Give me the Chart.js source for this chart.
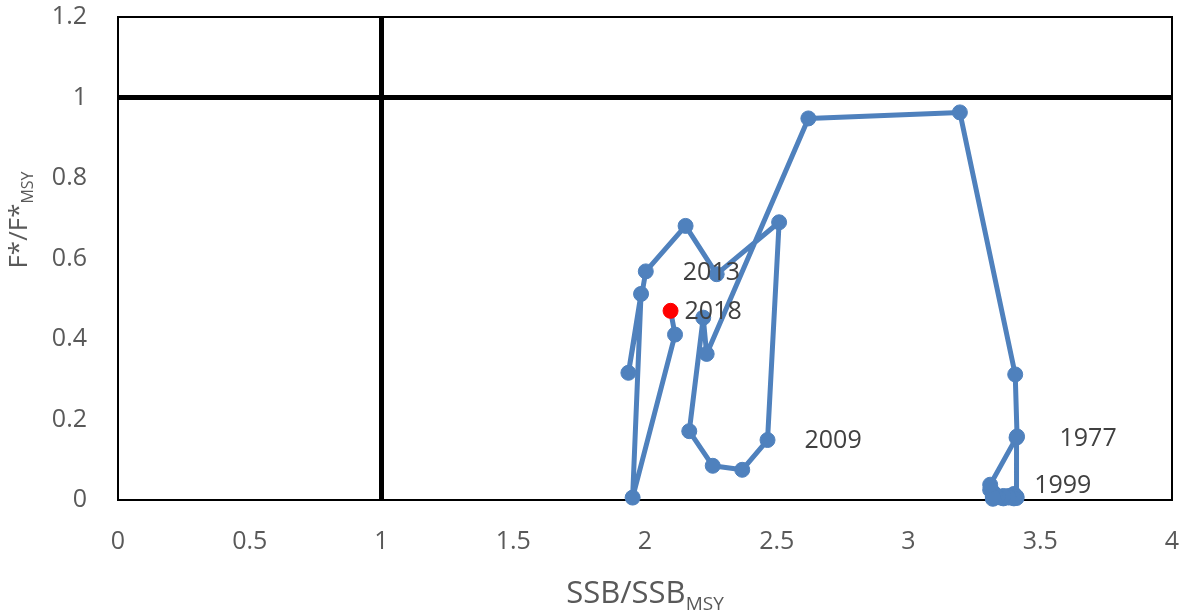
<!DOCTYPE html>
<html>
<head>
<meta charset="utf-8">
<title>SSB/SSBMSY vs F*/F*MSY</title>
<script src="https://cdn.jsdelivr.net/npm/chart.js@4.4.0/dist/chart.umd.min.js"></script>
<style>
  html, body { margin: 0; padding: 0; background: #ffffff; }
  #wrap { width: 1186px; height: 616px; }
</style>
</head>
<body>
<div id="wrap"><canvas id="kobe" width="1186" height="616"></canvas></div>
<script>
// Stock trajectory, one point per year
const years = [
  1977, 1978, 1979, 1980, 1981, 1982, 1983, 1984, 1985, 1986,
  1987, 1988, 1989, 1990, 1991, 1992, 1993, 1994, 1995, 1996,
  1997, 1998, 1999, 2000, 2001, 2002, 2003, 2004, 2005, 2006,
  2007, 2008, 2009, 2010, 2011, 2012, 2013, 2014, 2015, 2016,
  2017, 2018
];
const ssbRatio = [
  3.41, 3.41, 3.40, 3.38, 3.36, 3.33, 3.32, 3.33, 3.35, 3.38,
  3.40, 3.41, 3.40, 3.38, 3.36, 3.34, 3.33, 3.32, 3.31, 3.32,
  3.33, 3.32, 3.31, 3.412, 3.405, 3.195, 2.62, 2.234, 2.221, 2.168,
  2.257, 2.369, 2.465, 2.509, 2.272, 2.154, 2.003, 1.937, 1.985, 1.953,
  2.114, 2.097
];
const fRatio = [
  0.155, 0.005, 0.012, 0.008, 0.004, 0.006, 0.003, 0.010, 0.006, 0.010,
  0.015, 0.008, 0.004, 0.006, 0.010, 0.008, 0.012, 0.018, 0.025, 0.020,
  0.012, 0.008, 0.038, 0.158, 0.312, 0.963, 0.948, 0.363, 0.453, 0.171,
  0.085, 0.075, 0.149, 0.690, 0.561, 0.681, 0.568, 0.316, 0.512, 0.006,
  0.411, 0.470
];
const labelledYears = [1977, 1999, 2009, 2013, 2018];
const currentYear = 2018;

// Reference points (SSB = SSBMSY, F = FMSY)
const refSsb = 1;
const refF = 1;

// Axis ticks
const xTicks = [0, 0.5, 1, 1.5, 2, 2.5, 3, 3.5, 4];
const yTicks = [0, 0.2, 0.4, 0.6, 0.8, 1, 1.2];

// Horizontal gap (px) between a labelled point and its year text
const labelGap = { 1977: 43, 1999: 44, 2009: 37, 2013: 37, 2018: 14 };

const BLUE = '#4F81BD';
const RED = '#FF0000';
const TEXT = '#595959';
const LABEL = '#404040';
const FONT = "'Open Sans', 'Liberation Sans', sans-serif";

const trajectory = years.map((yr, i) => ({ x: ssbRatio[i], y: fRatio[i] }));
const markerColors = years.map(yr => (yr === currentYear ? RED : BLUE));

// Frame around the plot area
const plotFrame = {
  id: 'plotFrame',
  beforeDatasetsDraw(chart) {
    const { ctx, chartArea: a } = chart;
    ctx.save();
    ctx.strokeStyle = '#000000';
    ctx.lineWidth = 2;
    ctx.strokeRect(a.left, a.top, a.right - a.left, a.bottom - a.top);
    ctx.restore();
  }
};

// Year labels beside selected points
const yearLabels = {
  id: 'yearLabels',
  afterDatasetsDraw(chart) {
    const { ctx } = chart;
    const meta = chart.getDatasetMeta(2);
    ctx.save();
    ctx.font = '25px ' + FONT;
    ctx.fillStyle = LABEL;
    ctx.textAlign = 'left';
    ctx.textBaseline = 'middle';
    labelledYears.forEach(yr => {
      const i = years.indexOf(yr);
      const pt = meta.data[i];
      ctx.fillText(String(yr), pt.x + labelGap[yr], pt.y + 1);
    });
    ctx.restore();
  }
};

// Axis titles with subscripts
function drawSubscripted(ctx, main, sub, x, y, size) {
  ctx.font = size + 'px ' + FONT;
  const w1 = ctx.measureText(main).width;
  const subSize = Math.round(size * 0.62);
  ctx.font = subSize + 'px ' + FONT;
  const w2 = ctx.measureText(sub).width;
  const start = x - (w1 + w2) / 2;
  ctx.font = size + 'px ' + FONT;
  ctx.fillText(main, start, y);
  ctx.font = subSize + 'px ' + FONT;
  ctx.fillText(sub, start + w1, y + size * 0.22);
}

const axisTitles = {
  id: 'axisTitles',
  afterDraw(chart) {
    const { ctx, chartArea: a } = chart;
    ctx.save();
    ctx.fillStyle = TEXT;
    ctx.textAlign = 'left';
    ctx.textBaseline = 'alphabetic';
    drawSubscripted(ctx, 'SSB/SSB', 'MSY', (a.left + a.right) / 2, 603, 31);
    ctx.translate(27, a.top + 203);
    ctx.rotate(-Math.PI / 2);
    drawSubscripted(ctx, 'F*/F*', 'MSY', 0, 0, 26);
    ctx.restore();
  }
};

new Chart(document.getElementById('kobe'), {
  type: 'scatter',
  data: {
    datasets: [
      {
        data: [{ x: refSsb, y: yTicks[0] }, { x: refSsb, y: yTicks[yTicks.length - 1] }],
        showLine: true,
        borderColor: '#000000',
        borderWidth: 5,
        pointRadius: 0,
        clip: false
      },
      {
        data: [{ x: xTicks[0], y: refF }, { x: xTicks[xTicks.length - 1], y: refF }],
        showLine: true,
        borderColor: '#000000',
        borderWidth: 5,
        pointRadius: 0,
        clip: false
      },
      {
        data: trajectory,
        showLine: true,
        borderColor: BLUE,
        borderWidth: 5,
        borderJoinStyle: 'round',
        borderCapStyle: 'round',
        pointRadius: 7.5,
        pointBorderWidth: 1,
        pointBackgroundColor: markerColors,
        pointBorderColor: markerColors,
        clip: false
      }
    ]
  },
  options: {
    responsive: false,
    animation: false,
    devicePixelRatio: 1,
    layout: { padding: { top: 17, right: 14, left: 0, bottom: 0 } },
    plugins: { legend: { display: false }, tooltip: { enabled: false } },
    scales: {
      x: {
        type: 'linear',
        min: xTicks[0],
        max: xTicks[xTicks.length - 1],
        afterBuildTicks: s => { s.ticks = xTicks.map(v => ({ value: v })); },
        afterFit: s => {
          s.height = 116;
          s.paddingLeft = 0;
          s.paddingRight = 0;
        },
        grid: { display: false, drawTicks: false },
        border: { display: false },
        ticks: {
          color: TEXT,
          font: { family: FONT, size: 25 },
          padding: 27,
          maxRotation: 0,
          callback: v => String(v)
        }
      },
      y: {
        type: 'linear',
        min: yTicks[0],
        max: yTicks[yTicks.length - 1],
        afterBuildTicks: s => { s.ticks = yTicks.map(v => ({ value: v })); },
        afterFit: s => {
          s.width = 118;
          s.paddingTop = 0;
          s.paddingBottom = 0;
        },
        grid: { display: false, drawTicks: false },
        border: { display: false },
        ticks: {
          color: TEXT,
          font: { family: FONT, size: 25 },
          padding: 31,
          callback: v => String(v)
        }
      }
    }
  },
  plugins: [plotFrame, yearLabels, axisTitles]
});
</script>
</body>
</html>
